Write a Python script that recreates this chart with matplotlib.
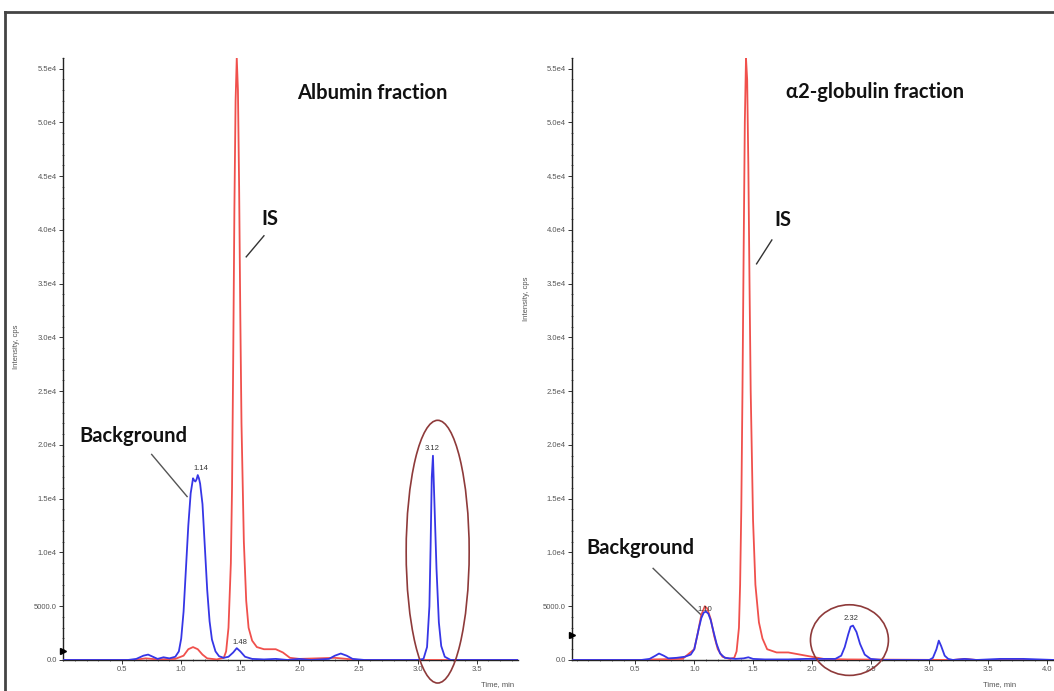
import matplotlib.pyplot as plt
import matplotlib.ticker as mticker
from matplotlib.patches import Ellipse
from matplotlib.lines import Line2D

# ---- data (time in min, intensity in cps) ----
t_alb_blue = [0.0, 0.55, 0.62, 0.68, 0.72, 0.76, 0.80, 0.85, 0.90, 0.95, 0.98, 1.00, 1.02, 1.04,
              1.06, 1.08, 1.10, 1.11, 1.12, 1.13, 1.14, 1.15, 1.16, 1.18, 1.20, 1.22, 1.24, 1.26,
              1.29, 1.32, 1.36, 1.40, 1.44, 1.47, 1.50, 1.54, 1.60, 1.70, 1.80, 1.90, 2.00, 2.10,
              2.25, 2.30, 2.35, 2.40, 2.45, 2.55, 3.00, 3.05, 3.08, 3.10, 3.11, 3.12, 3.13, 3.14,
              3.16, 3.18, 3.20, 3.23, 3.28, 3.85]
i_alb_blue = [0, 0, 100, 400, 500, 300, 100, 250, 150, 300, 800, 2000, 4500, 8500,
              12500, 15500, 16900, 16700, 16600, 16800, 17200, 16900, 16400, 14500, 10500, 6500, 3600, 1900,
              800, 350, 200, 300, 700, 1100, 800, 300, 100, 50, 100, 0, 100, 0,
              100, 400, 600, 400, 100, 0, 0, 100, 1200, 5000, 10500, 17000, 19000, 15500,
              8500, 3500, 1300, 300, 0, 0]

t_alb_red = [0.0, 0.60, 0.70, 0.80, 0.95, 1.02, 1.06, 1.10, 1.14, 1.18, 1.22, 1.30, 1.36, 1.38,
             1.40, 1.42, 1.43, 1.44, 1.45, 1.46, 1.47, 1.48, 1.49, 1.50, 1.51, 1.53, 1.55, 1.57,
             1.60, 1.64, 1.70, 1.80, 1.86, 1.92, 2.00, 2.30, 2.40, 2.50, 3.00, 3.85]
i_alb_red = [0, 0, 150, 50, 100, 400, 1000, 1200, 1000, 500, 150, 50, 200, 800,
             3000, 9000, 16000, 28000, 42000, 52000, 56000, 53000, 44000, 32000, 22000, 11000, 5500, 3000,
             1800, 1200, 1000, 1000, 700, 200, 100, 200, 100, 0, 0, 0]

t_glob_blue = [-0.04, 0.55, 0.62, 0.67, 0.70, 0.74, 0.78, 0.85, 0.92, 0.97, 1.00, 1.02, 1.04, 1.06,
               1.08, 1.10, 1.12, 1.14, 1.16, 1.19, 1.22, 1.26, 1.35, 1.42, 1.46, 1.50, 1.60, 1.80,
               1.95, 2.05, 2.20, 2.25, 2.28, 2.31, 2.33, 2.35, 2.38, 2.41, 2.45, 2.50, 2.60, 3.00,
               3.03, 3.06, 3.08, 3.10, 3.13, 3.16, 3.20, 3.30, 3.40, 3.60, 3.80, 4.06]
i_glob_blue = [0, 0, 100, 400, 600, 400, 150, 200, 300, 500, 1000, 2000, 3000, 3900,
               4400, 4500, 4300, 3700, 2800, 1500, 600, 200, 100, 150, 250, 100, 50, 50,
               100, 100, 100, 400, 1200, 2400, 3100, 3200, 2600, 1500, 500, 100, 0, 0,
               200, 1000, 1800, 1300, 400, 100, 0, 100, 0, 100, 100, 0]

t_glob_red = [-0.04, 0.60, 0.65, 0.90, 1.00, 1.03, 1.06, 1.09, 1.11, 1.14, 1.17, 1.20, 1.24, 1.30,
              1.34, 1.36, 1.38, 1.39, 1.40, 1.41, 1.42, 1.43, 1.44, 1.45, 1.46, 1.47, 1.48, 1.50,
              1.52, 1.55, 1.58, 1.62, 1.70, 1.80, 1.90, 2.00, 2.10, 2.30, 3.20, 3.30, 3.40, 4.06]
i_glob_red = [0, 0, 50, 100, 1000, 2500, 4200, 5000, 4800, 3800, 2200, 1000, 300, 100,
              200, 800, 3000, 7000, 14000, 25000, 38000, 50000, 56000, 54000, 46000, 35000, 25000, 13000,
              7000, 3500, 2000, 1000, 700, 700, 500, 300, 100, 50, 0, 100, 0, 0]

y_ticks = [0, 5000, 10000, 15000, 20000, 25000, 30000, 35000, 40000, 45000, 50000, 55000]
y_tick_labels = ['0.0', '5000.0', '1.0e4', '1.5e4', '2.0e4', '2.5e4', '3.0e4',
                 '3.5e4', '4.0e4', '4.5e4', '5.0e4', '5.5e4']
x_ticks_alb = [0.5, 1.0, 1.5, 2.0, 2.5, 3.0, 3.5]
x_ticks_glob = [0.5, 1.0, 1.5, 2.0, 2.5, 3.0, 3.5, 4.0]
marker_level = [800, 2300]

BLUE = '#3636e6'
RED = '#f0504c'
CIRCLE = '#8e3a3a'
TICK_GREY = '#555555'

fig = plt.figure(figsize=(10.54, 6.91), dpi=100)
ax1 = fig.add_axes([0.0598, 0.0449, 0.4317, 0.8712])
ax2 = fig.add_axes([0.5427, 0.0449, 0.4573, 0.8712])


def style_axis(ax, xlim, xticks):
    ax.set_xlim(*xlim)
    ax.set_ylim(0, 56000)
    for s in ['top', 'right']:
        ax.spines[s].set_visible(False)
    for s in ['left', 'bottom']:
        ax.spines[s].set_color('#222222')
        ax.spines[s].set_linewidth(1.0)
    ax.set_yticks(y_ticks)
    ax.set_yticklabels(y_tick_labels)
    ax.set_xticks(xticks)
    ax.set_xticklabels(['%.1f' % v for v in xticks])
    ax.yaxis.set_minor_locator(mticker.MultipleLocator(1000))
    ax.xaxis.set_minor_locator(mticker.MultipleLocator(0.1))
    ax.tick_params(axis='both', which='major', labelsize=5.5, labelcolor=TICK_GREY,
                   length=3, width=0.7, color='#333333', pad=1.5)
    ax.tick_params(axis='both', which='minor', length=2, width=0.5, color='#333333',
                   direction='inout')
    for lab in ax.get_xticklabels() + ax.get_yticklabels():
        lab.set_family('Liberation Sans')
    ax.set_ylabel('Intensity, cps', fontsize=5.5, color=TICK_GREY, family='Liberation Sans')
    ax.set_xlabel('Time, min', fontsize=5.5, color=TICK_GREY, family='Liberation Sans')


# ---- left: albumin fraction ----
ax1.plot(t_alb_red, i_alb_red, color=RED, lw=1.3, zorder=3)
ax1.plot(t_alb_blue, i_alb_blue, color=BLUE, lw=1.3, zorder=4)
style_axis(ax1, (0, 3.85), x_ticks_alb)
ax1.yaxis.set_label_coords(-0.095, 0.52)
ax1.xaxis.set_label_coords(0.955, -0.035)
ax1.plot([0], [marker_level[0]], marker='>', color='black', ms=4, clip_on=False, zorder=5)

bold = dict(family='Lato', fontweight='bold', fontsize=14.5, color='#111111')
ax1.text(1.98, 52700, 'Albumin fraction', ha='left', va='center', **bold)
ax1.text(1.75, 41000, 'IS', ha='center', va='center', **bold)
ax1.plot([1.70, 1.55], [39460, 37500], color='#333333', lw=1)
ax1.text(0.14, 20800, 'Background', ha='left', va='center', **bold)
ax1.plot([0.75, 1.05], [19120, 15200], color='#555555', lw=1)

small = dict(fontsize=5.5, color='#333333', family='Liberation Sans', ha='center', va='bottom')
ax1.text(1.17, 17500, '1.14', **small)
ax1.text(1.50, 1300, '1.48', **small)
ax1.text(3.12, 19300, '3.12', **small)
ax1.add_patch(Ellipse((3.17, 10075), 0.533, 24440, fill=False, edgecolor=CIRCLE,
                      lw=1.2, clip_on=False, zorder=6))

# ---- right: alpha2-globulin fraction ----
ax2.plot(t_glob_red, i_glob_red, color=RED, lw=1.3, zorder=3)
ax2.plot(t_glob_blue, i_glob_blue, color=BLUE, lw=1.3, zorder=4)
style_axis(ax2, (-0.04, 4.06), x_ticks_glob)
ax2.yaxis.set_label_coords(-0.087, 0.60)
ax2.xaxis.set_label_coords(0.888, -0.035)
ax2.plot([-0.04], [marker_level[1]], marker='>', color='black', ms=4, clip_on=False, zorder=5)

ax2.text(1.78, 52800, '\u03b12-globulin fraction', ha='left', va='center', **bold)
ax2.text(1.75, 40930, 'IS', ha='center', va='center', **bold)
ax2.plot([1.66, 1.53], [39070, 36850], color='#333333', lw=1)
ax2.text(0.085, 10370, 'Background', ha='left', va='center', **bold)
ax2.plot([0.65, 1.06], [8520, 4170], color='#555555', lw=1)
ax2.text(1.09, 4400, '1.10', **small)
ax2.text(2.33, 3500, '2.32', **small)
ax2.add_patch(Ellipse((2.32, 1850), 0.663, 6570, fill=False, edgecolor=CIRCLE,
                      lw=1.2, clip_on=False, zorder=6))

# outer frame of the original screenshot
fig.add_artist(Line2D([0.0047, 0.0047], [0.0, 0.9826], transform=fig.transFigure,
                      color='#444444', lw=2))
fig.add_artist(Line2D([0.0047, 1.0], [0.9826, 0.9826], transform=fig.transFigure,
                      color='#444444', lw=2))

fig.savefig('out.png', dpi=100)
